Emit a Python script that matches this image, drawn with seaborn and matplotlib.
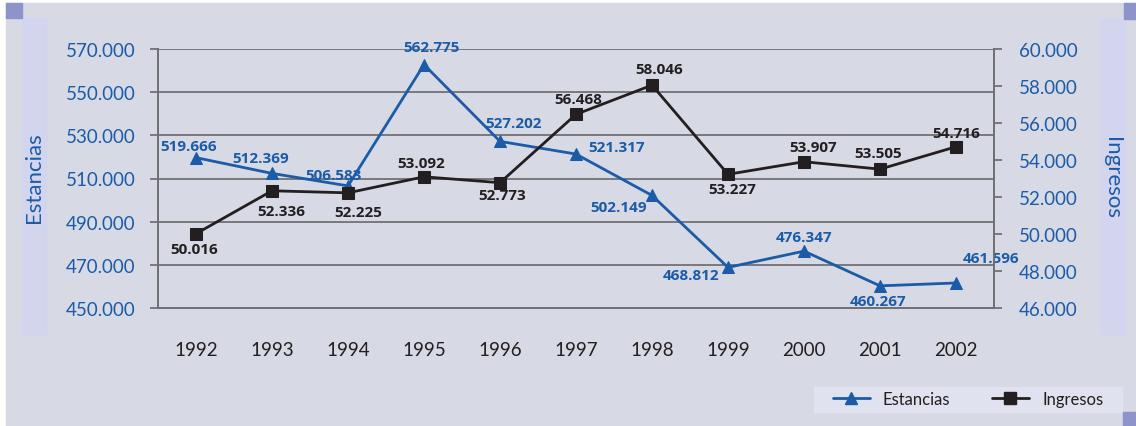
import matplotlib
matplotlib.use("Agg")
import matplotlib.pyplot as plt
import matplotlib.patches as mpatches
from matplotlib.lines import Line2D
import seaborn as sns
import pandas as pd

years = ["1992", "1993", "1994", "1995", "1996", "1997", "1998", "1999", "2000", "2001", "2002"]
estancias = [519666, 512369, 506583, 562775, 527202, 521317, 502149, 468812, 476347, 460267, 461596]
ingresos = [50016, 52336, 52225, 53092, 52773, 56468, 58046, 53227, 53907, 53505, 54716]
left_ticks = [450000, 470000, 490000, 510000, 530000, 550000, 570000]
right_ticks = [46000, 48000, 50000, 52000, 54000, 56000, 58000, 60000]

# label offsets in pixels (dx, dy)
est_off = [(-7, 12), (-11, 15), (-14, 11), (7, 18), (14, 18), (41, 7), (-33, -12), (-37, -8), (0, 14), (-2, -15), (35, 25)]
ing_off = [(-2, -15), (9, -20), (10, -19), (-3, 14), (2, -12), (2, 15), (7, 16), (4, -15), (9, 15), (-2, 16), (0, 14)]

BLUE = "#1b5ba8"
BLACK = "#231f20"
GRID = "#707075"

sns.set_theme(style="white")
plt.rcParams["font.family"] = ["Lato", "DejaVu Sans"]

W, H = 1136, 427
fig = plt.figure(figsize=(W / 100, H / 100), dpi=100, facecolor="white")

def rect(x0, y0, x1, y1, color):
    fig.patches.append(mpatches.Rectangle((x0 / W, 1 - y1 / H), (x1 - x0) / W, (y1 - y0) / H,
                                          transform=fig.transFigure, color=color, zorder=-10))

rect(6, 4, W, H, "#d7d9e5")
rect(22, 19, 46, 335, "#d3d5ee")
rect(6, 4, 22, 19, "#8c94c9")
rect(1100, 20, 1125, 335, "#d3d5ee")
rect(1124, 4, W, 20, "#8c94c9")
rect(814, 388, 1122, 413, "#e0e2ef")
rect(1123, 413, W, H, "#8c94c9")

ax = fig.add_axes([158 / W, 1 - 309 / H, (994 - 158) / W, (309 - 50) / H])
ax.set_facecolor("none")
ax2 = ax.twinx()

df = pd.DataFrame({"Año": list(range(len(years))), "Estancias": estancias, "Ingresos": ingresos})

sns.lineplot(data=df, x="Año", y="Estancias", ax=ax, color=BLUE, marker="^", markersize=9,
             markeredgecolor=BLUE, linewidth=2, zorder=5)
sns.lineplot(data=df, x="Año", y="Ingresos", ax=ax2, color=BLACK, marker="s", markersize=9,
             markeredgecolor=BLACK, linewidth=2, zorder=5)

ax.set_xlim(-0.5, len(years) - 0.5)
ax.set_ylim(450000, 570000)
ax2.set_ylim(46000, 60000)
ax.set_yticks(left_ticks)
ax.set_yticklabels([f"{v // 1000}.000" for v in left_ticks], color=BLUE, fontsize=13.5)
ax2.set_yticks(right_ticks)
ax2.set_yticklabels([f"{v // 1000}.000" for v in right_ticks], color=BLUE, fontsize=13.5)

ax.set_xticks(range(len(years)))
ax.set_xticklabels(years, fontsize=13.5, color=BLACK)
ax.set_xticks([i + 0.5 for i in range(-1, len(years))], minor=True)
ax.tick_params(axis="x", which="major", length=0, pad=24)
ax.tick_params(axis="x", which="minor", length=7, width=1.3, color=GRID, direction="out")
ax.tick_params(axis="y", length=6, width=1.3, color=GRID, direction="out", pad=10)
ax2.tick_params(axis="y", length=6, width=1.3, color=GRID, direction="out", pad=12)

ax.yaxis.grid(True, color=GRID, linewidth=1.3)
ax.set_axisbelow(True)
for a in (ax, ax2):
    a.spines["top"].set_visible(False)
    for s in ["left", "right", "bottom"]:
        a.spines[s].set_color(GRID)
        a.spines[s].set_linewidth(1.3)

ax.set_xlabel("")
ax.set_ylabel("")
ax2.set_ylabel("")
fig.text(34 / W, 1 - 178 / H, "Estancias", rotation=90, color=BLUE, fontsize=16,
         ha="center", va="center")
fig.text(1112 / W, 1 - 178 / H, "Ingresos", rotation=270, color=BLUE, fontsize=16,
         ha="center", va="center")

LBL = ["Open Sans", "DejaVu Sans"]
for i, (v, off) in enumerate(zip(estancias, est_off)):
    ax.annotate(f"{v / 1000:.3f}", (i, v), xytext=off, textcoords="offset pixels",
                ha="center", va="center", color=BLUE, fontsize=11, fontweight="bold",
                family=LBL, zorder=6)
for i, (v, off) in enumerate(zip(ingresos, ing_off)):
    ax2.annotate(f"{v / 1000:.3f}", (i, v), xytext=off, textcoords="offset pixels",
                 ha="center", va="center", color=BLACK, fontsize=11, fontweight="bold",
                 family=LBL, zorder=6)

handles = [Line2D([], [], color=BLUE, marker="^", markersize=8, linewidth=2, label="Estancias"),
           Line2D([], [], color=BLACK, marker="s", markersize=8, linewidth=2, label="Ingresos")]
fig.legend(handles=handles, loc="center", bbox_to_anchor=(968 / W, 1 - 400 / H), ncol=2,
           frameon=False, fontsize=12, handlelength=2.2, columnspacing=2.5, labelcolor=BLACK)

fig.savefig("out.png", dpi=100, facecolor="white")
